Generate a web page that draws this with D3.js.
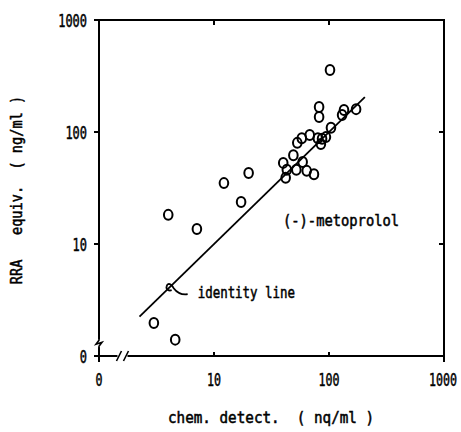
<!DOCTYPE html>
<html>
<head>
<meta charset="utf-8">
<script src="https://cdn.jsdelivr.net/npm/d3@7"></script>
<style>
  html, body { margin: 0; padding: 0; background: #fff; }
  svg { display: block; }
  text { white-space: pre; }
</style>
</head>
<body>
<svg id="chart"></svg>
<script>
// values (ng/ml); the "0" tick sits at 1 on the log axes
const tickValues = [1, 10, 100, 1000];
const tickLabels = ['0', '10', '100', '1000'];
const chemDetect = [102, 82, 82, 172, 135, 130, 104, 94, 87, 80, 85, 68, 58, 53, 49, 40, 59, 52, 43, 64, 74, 42, 20, 12.2, 17.2, 4.0, 7.1, 3.0, 4.6];
const rraEquiv =   [358, 167, 136, 160, 157, 142, 109, 90, 87, 88, 78, 94, 88, 80, 62, 53, 54, 46, 46, 45, 42, 39, 43, 35, 23.7, 18.2, 13.6, 1.97, 1.4];
const identityRange = [2.25, 205];
const identityCallout = 4.2;
const axisBreakX = 1.6, axisBreakY = 1.3;

(function() {
  const svgDim = { w: 461, h: 432 },
    font = 'DejaVu Sans Mono, Liberation Mono, monospace';

  const xScale = d3.scaleLog().domain([1, 1000]).range([99, 444]),
    yScale = d3.scaleLog().domain([1, 1000]).range([356, 20]);

  const $svg = d3.select('#chart')
    .attr('width', svgDim.w)
    .attr('height', svgDim.h);

  // narrow plotter lettering: squeeze a monospace font horizontally
  const addText = (str, x, y, size, charW, anchor) => {
    const natural = size * 0.602,
      sx = charW / natural;
    return $svg.append('text')
      .text(str)
      .attr('xml:space', 'preserve')
      .attr('transform', 'translate(' + x + ',' + y + ') scale(' + sx + ',1)')
      .attr('font-family', font)
      .attr('font-size', size)
      .attr('text-anchor', anchor || 'start')
      .attr('fill', '#000')
      .attr('stroke', '#000')
      .attr('stroke-width', 0.5);
  };

  const x0 = xScale.range()[0], x1 = xScale.range()[1],
    y0 = yScale.range()[0], y1 = yScale.range()[1];

  // frame
  $svg.append('rect')
    .attr('x', x0).attr('y', y1)
    .attr('width', x1 - x0).attr('height', y0 - y1)
    .attr('fill', 'none')
    .attr('stroke', '#000')
    .attr('stroke-width', 2);

  // ticks: outward on the left and at the ends of the bottom, inward elsewhere
  const $ticks = $svg.append('g').attr('stroke', '#000').attr('stroke-width', 2);
  tickValues.forEach((v) => {
    $ticks.append('line')
      .attr('x1', x0 - 5).attr('x2', x0)
      .attr('y1', yScale(v)).attr('y2', yScale(v));
    if (v > 1 && v < 1000) {
      $ticks.append('line')
        .attr('x1', x1 - 5).attr('x2', x1)
        .attr('y1', yScale(v)).attr('y2', yScale(v));
      $ticks.append('line')
        .attr('x1', xScale(v)).attr('x2', xScale(v))
        .attr('y1', y1).attr('y2', y1 + 5);
      $ticks.append('line')
        .attr('x1', xScale(v)).attr('x2', xScale(v))
        .attr('y1', y0 - 4).attr('y2', y0);
    } else {
      $ticks.append('line')
        .attr('x1', xScale(v)).attr('x2', xScale(v))
        .attr('y1', y0).attr('y2', y0 + 6);
    }
  });

  // axis breaks
  const bx = xScale(axisBreakX), by = yScale(axisBreakY);
  $svg.append('rect').attr('x', bx - 5).attr('y', y0 - 3).attr('width', 10).attr('height', 6).attr('fill', '#fff');
  $svg.append('rect').attr('x', x0 - 3).attr('y', by - 4).attr('width', 6).attr('height', 8).attr('fill', '#fff');
  $svg.append('path')
    .attr('d', 'M' + (bx - 6) + ',' + (y0 + 5) + 'L' + (bx - 1) + ',' + (y0 - 5) +
      'M' + (bx + 1) + ',' + (y0 + 5) + 'L' + (bx + 6) + ',' + (y0 - 5))
    .attr('stroke', '#000').attr('stroke-width', 1.6).attr('fill', 'none');
  $svg.append('path')
    .attr('d', 'M' + x0 + ',' + (by + 8) + 'L' + x0 + ',' + (by + 3) + 'L' + (x0 + 3) + ',' + (by - 1) +
      'L' + (x0 - 3) + ',' + (by + 1) + 'L' + x0 + ',' + (by - 3) + 'L' + x0 + ',' + (by - 8))
    .attr('stroke', '#000').attr('stroke-width', 1.6).attr('fill', 'none');

  // tick labels; the last x label is kept inside the right edge
  tickValues.forEach((v, i) => {
    addText(tickLabels[i], x0 - 12, yScale(v) + 7, 17, 7.2, 'end');
    const half = tickLabels[i].length * 7.0 / 2;
    if (xScale(v) + half > svgDim.w - 4) {
      addText(tickLabels[i], svgDim.w - 4, y0 + 30, 17, 7.0, 'end');
    } else {
      addText(tickLabels[i], xScale(v), y0 + 30, 17, 7.0, 'middle');
    }
  });

  // axis titles
  addText('chem. detect.  ( nq/ml )', 168, 423, 15, 8.6);
  addText('RRA   equiv.  ( ng/ml )', 0, 0, 15, 8.2, 'middle')
    .attr('transform', 'translate(22, 190) rotate(-90) scale(' + (8.2 / (15 * 0.602)) + ',1)');

  // identity line
  $svg.append('line')
    .attr('x1', xScale(identityRange[0])).attr('y1', yScale(identityRange[0]))
    .attr('x2', xScale(identityRange[1])).attr('y2', yScale(identityRange[1]))
    .attr('stroke', '#000').attr('stroke-width', 1.8);

  // points
  $svg.append('g')
    .selectAll('ellipse')
    .data(chemDetect)
    .enter()
    .append('ellipse')
    .attr('cx', (d) => xScale(d))
    .attr('cy', (d, i) => yScale(rraEquiv[i]))
    .attr('rx', 4.3)
    .attr('ry', 5)
    .attr('fill', 'none')
    .attr('stroke', '#000')
    .attr('stroke-width', 2);

  // callout hook for the identity line
  const ax = xScale(identityCallout), ay = yScale(identityCallout);
  $svg.append('path')
    .attr('d', 'M' + (ax + 17) + ',' + (ay + 8) +
      'C' + (ax + 10) + ',' + (ay + 9) + ' ' + (ax + 6) + ',' + (ay + 6) + ' ' + (ax + 3) + ',' + (ay + 2) +
      'C' + (ax + 1) + ',' + (ay - 2) + ' ' + (ax - 3) + ',' + (ay - 4) + ' ' + (ax - 4) + ',' + (ay) +
      'C' + (ax - 5) + ',' + (ay + 3) + ' ' + (ax - 2) + ',' + (ay + 5) + ' ' + (ax + 1) + ',' + (ay + 4))
    .attr('stroke', '#000').attr('stroke-width', 1.8).attr('fill', 'none');

  addText('identity line', ax + 27, ay + 12, 15, 7.5);
  addText('(-)-metoprolol', 283, 226, 15, 8.3);
})();
</script>
</body>
</html>
